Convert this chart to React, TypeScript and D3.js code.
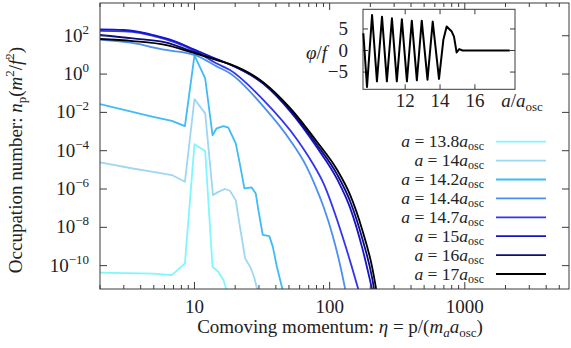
import React from 'react';
import * as d3 from 'd3';

// ---------- data ----------
const legendLabels = ['13.8', '14', '14.2', '14.4', '14.7', '15', '16', '17'];
const colors = ['#80f6ff', '#9ed6f4', '#3fbcf6', '#4a8ff2', '#3434ee', '#1414c8', '#0d0d78', '#000000'];

// eta = comoving momentum, log10 of occupation number
const eta138 = [2, 4.95, 6.8, 8.5, 10, 12, 13.6, 15, 16.4, 17.5];
const log138 = [-10.37, -10.42, -10.5, -9.88, -3.66, -4.02, -10.06, -10.32, -10.76, -11.4];

const eta140 = [2, 3.5, 4.95, 6.8, 8.5, 10, 12, 13.7, 15, 16.8, 18.3, 20.2, 21.7, 23.7, 25.8, 27.6, 29.5];
const log140 = [-4.61, -4.93, -5.1, -5.27, -5.62, -1.31, -2.05, -6.32, -6.15, -6.0, -6.09, -6.58, -7.97, -9.62, -10.06, -10.58, -11.4];

const eta142 = [2, 4.95, 6.8, 8.5, 10, 12, 13.6, 14.6, 16.4, 17.8, 20.2, 21.4, 23.4, 26.5, 28.4, 29.7, 32, 35.8, 38, 40.7, 44.3, 47];
const log142 = [-1.57, -2.23, -2.44, -2.72, 0.97, -0.23, -3.19, -2.83, -2.72, -2.8, -3.62, -4.49, -5.97, -5.92, -6.23, -7.1, -8.4, -8.46, -9.02, -10.06, -11.1, -11.8];

const eta144 = [2, 3, 4, 5, 7, 8.5, 10, 14.6, 18.3, 32.4, 51, 66.9, 78.2, 90.1, 105, 120.3, 131];
const log144 = [1.8, 1.68, 1.55, 1.38, 1.2, 1.12, 1.0, 0.4, 0.04, -1.7, -3.45, -4.78, -5.82, -6.93, -8.4, -10.06, -11.3];

const eta147 = [2, 3, 4, 5, 7, 10, 14.6, 18.3, 32.4, 57.2, 74, 90.1, 120.3, 145, 164];
const log147 = [2.25, 2.23, 2.14, 1.98, 1.68, 1.22, 0.55, 0.21, -1.36, -3.4, -4.6, -5.71, -8.15, -10.0, -11.3];

const eta150 = [2, 3, 4, 5, 7, 10, 14.6, 18.3, 32.2, 51.1, 80.9, 113.8, 142, 174.6, 207];
const log150 = [2.33, 2.3, 2.19, 2.03, 1.74, 1.28, 0.78, 0.5, -0.5, -1.95, -3.85, -5.5, -7.0, -9.1, -11.3];

const eta160 = [2, 3.5, 6.2, 9.3, 14.6, 18.3, 32.2, 51.1, 80.9, 113.8, 142, 174.6, 207, 221];
const log160 = [2.04, 1.86, 1.64, 1.22, 0.75, 0.5, -0.47, -1.88, -3.7, -5.25, -6.65, -8.6, -10.7, -11.9];

const eta170 = [2, 3.5, 6.2, 9.3, 14.6, 18.3, 32.2, 51.1, 80.9, 113.8, 142, 174.6, 207, 221];
const log170 = [1.83, 1.72, 1.51, 1.16, 0.73, 0.52, -0.42, -1.78, -3.55, -5.01, -6.32, -8.15, -10.13, -11.23];

const yTickExps = [2, 0, -2, -4, -6, -8, -10];
const xMajor = [10, 100, 1000];

// inset: field oscillation phi/f vs a/a_osc
const insetA = [9.6, 9.81, 10.1, 10.38, 10.67, 10.95, 11.24, 11.52, 11.81, 12.1, 12.38, 12.67, 12.95, 13.28, 13.58, 13.94, 14.19, 14.38, 14.67, 14.8, 14.95, 15.1, 15.29, 16, 17, 18];
const insetPhi = [4.0, -8.46, 8.24, -7.15, 7.86, -7.15, 7.47, -7.15, 7.24, -7.15, 6.93, -6.92, 6.93, -6.77, 6.7, -6.6, 2.47, 5.55, 4.39, 3.24, -0.45, 0.32, 0, 0, 0, 0];
const insetXTicks = [12, 14, 16];
const insetYTicks = [5, 0, -5];

const FONT = "'Liberation Serif', 'DejaVu Serif', serif";

export default function App() {
  const L = 100, R = 569, T = 3, B = 289;
  const x = d3.scaleLog().domain([2, 5900]).range([L, R]);
  const y = d3.scaleLog().domain([Math.pow(10, -11.22), Math.pow(10, 3.71)]).range([B, T]);

  const series = [
    { eta: eta138, logn: log138 },
    { eta: eta140, logn: log140 },
    { eta: eta142, logn: log142 },
    { eta: eta144, logn: log144, smooth: true },
    { eta: eta147, logn: log147, smooth: true },
    { eta: eta150, logn: log150, smooth: true },
    { eta: eta160, logn: log160, smooth: true },
    { eta: eta170, logn: log170, smooth: true },
  ];

  const mkLine = (smooth?: boolean) =>
    d3
      .line<[number, number]>()
      .x((d) => x(d[0]))
      .y((d) => y(Math.pow(10, d[1])))
      .curve(smooth ? d3.curveMonotoneX : d3.curveLinear);

  const minorTicks: number[] = [];
  [1, 10, 100, 1000].forEach((dec) => {
    for (let k = 2; k <= 9; k++) {
      const v = dec * k;
      if (v >= 2 && v <= 5900) minorTicks.push(v);
    }
  });

  // inset scales
  const iL = 363, iR = 515, iT = 9.3, iB = 89.3;
  const ix = d3.scaleLinear().domain([9.58, 18.3]).range([iL, iR]);
  const iy = d3.scaleLinear().domain([-9.0, 9.56]).range([iB, iT]);
  const insetLine = d3
    .line<number>()
    .x((_, i) => ix(insetA[i]))
    .y((d) => iy(d))
    .curve(d3.curveLinear);

  const axisColor = '#3a3a3a';
  const legendY0 = 141.7;
  const legendDy = 18.9;

  return (
    <svg
      width={571}
      height={348}
      style={{ position: 'absolute', left: 0, top: 0, background: '#fff' }}
      fontFamily={FONT}
    >
      <defs>
        <clipPath id="plotClip">
          <rect x={L} y={T} width={R - L} height={B - T} />
        </clipPath>
      </defs>
      <rect x={0} y={0} width={571} height={348} fill="#fff" />

      {/* curves */}
      <g clipPath="url(#plotClip)">
        {series.map((s, i) => (
          <path
            key={i}
            d={mkLine(s.smooth)(s.eta.map((e, j) => [e, s.logn[j]] as [number, number])) || ''}
            fill="none"
            stroke={colors[i]}
            strokeWidth={1.8}
            strokeLinejoin="round"
          />
        ))}
      </g>

      {/* frame */}
      <rect x={L} y={T} width={R - L} height={B - T} fill="none" stroke={axisColor} strokeWidth={1} />

      {/* x ticks */}
      {xMajor.map((v) => (
        <g key={'xm' + v}>
          <line x1={x(v)} x2={x(v)} y1={B} y2={B - 7} stroke={axisColor} />
          <line x1={x(v)} x2={x(v)} y1={T} y2={T + 7} stroke={axisColor} />
          <text x={x(v)} y={313} textAnchor="middle" fontSize={19} fill="#222">
            {v}
          </text>
        </g>
      ))}
      {minorTicks.map((v) => (
        <g key={'xn' + v}>
          <line x1={x(v)} x2={x(v)} y1={B} y2={B - 4} stroke={axisColor} />
          <line x1={x(v)} x2={x(v)} y1={T} y2={T + 4} stroke={axisColor} />
        </g>
      ))}

      {/* y ticks */}
      {yTickExps.map((e) => {
        const ty = y(Math.pow(10, e));
        return (
          <g key={'y' + e}>
            <line x1={L} x2={L + 7} y1={ty} y2={ty} stroke={axisColor} />
            <line x1={R} x2={R - 7} y1={ty} y2={ty} stroke={axisColor} />
            <text x={89} y={ty + 6} textAnchor="end" fontSize={19} fill="#222">
              10
              <tspan dy={-8} fontSize={13}>
                {e < 0 ? '\u2212' + Math.abs(e) : String(e)}
              </tspan>
            </text>
          </g>
        );
      })}

      {/* axis labels */}
      <text x={340} y={333} textAnchor="middle" fontSize={19} fill="#222">
        Comoving momentum: <tspan fontStyle="italic">η</tspan> = p/(
        <tspan fontStyle="italic">m</tspan>
        <tspan fontStyle="italic" fontSize={13} dy={4}>a</tspan>
        <tspan fontStyle="italic" dy={-4}>a</tspan>
        <tspan fontSize={13} dy={4}>osc</tspan>
        <tspan dy={-4}>)</tspan>
      </text>
      <text transform="translate(22,160) rotate(-90)" textAnchor="middle" fontSize={19} fill="#222">
        Occupation number: <tspan fontStyle="italic">n</tspan>
        <tspan fontSize={13} dy={4}>p</tspan>
        <tspan dy={-4}>(</tspan>
        <tspan fontStyle="italic">m</tspan>
        <tspan fontSize={13} dy={-8}>2</tspan>
        <tspan dy={8}>/</tspan>
        <tspan fontStyle="italic">f</tspan>
        <tspan fontSize={13} dy={-8}>2</tspan>
        <tspan dy={8}>)</tspan>
      </text>

      {/* legend */}
      {legendLabels.map((lab, i) => {
        const ly = legendY0 + i * legendDy;
        return (
          <g key={'lg' + i}>
            <line x1={496} x2={546} y1={ly} y2={ly} stroke={colors[i]} strokeWidth={1.8} />
            <text x={484} y={ly + 5.5} textAnchor="end" fontSize={17.5} fill="#222">
              <tspan fontStyle="italic">a</tspan> = {lab}
              <tspan fontStyle="italic">a</tspan>
              <tspan fontSize={12} dy={3}>osc</tspan>
            </text>
          </g>
        );
      })}

      {/* inset */}
      <rect x={iL} y={iT} width={iR - iL} height={iB - iT} fill="#fff" stroke={axisColor} strokeWidth={1} />
      {insetXTicks.map((v) => (
        <g key={'ix' + v}>
          <line x1={ix(v)} x2={ix(v)} y1={iB} y2={iB - 5} stroke={axisColor} />
          <line x1={ix(v)} x2={ix(v)} y1={iT} y2={iT + 5} stroke={axisColor} />
          <text x={ix(v)} y={107} textAnchor="middle" fontSize={19} fill="#222">
            {v}
          </text>
        </g>
      ))}
      {insetYTicks.map((v) => (
        <g key={'iy' + v}>
          <line x1={iL} x2={iL + 5} y1={iy(v)} y2={iy(v)} stroke={axisColor} />
          <line x1={iR} x2={iR - 5} y1={iy(v)} y2={iy(v)} stroke={axisColor} />
          <text x={348} y={iy(v) + 6} textAnchor="end" fontSize={19} fill="#222">
            {v < 0 ? '\u2212' + Math.abs(v) : String(v)}
          </text>
        </g>
      ))}
      <path d={insetLine(insetPhi) || ''} fill="none" stroke="#000" strokeWidth={2} strokeLinejoin="round" />
      <text x={327} y={59} textAnchor="end" fontSize={19} fill="#222">
        <tspan fontStyle="italic">φ</tspan>/<tspan fontStyle="italic">f</tspan>
      </text>
      <text x={522} y={107} textAnchor="middle" fontSize={19} fill="#222">
        <tspan fontStyle="italic">a</tspan>/<tspan fontStyle="italic">a</tspan>
        <tspan fontSize={13} dy={4}>osc</tspan>
      </text>
    </svg>
  );
}
